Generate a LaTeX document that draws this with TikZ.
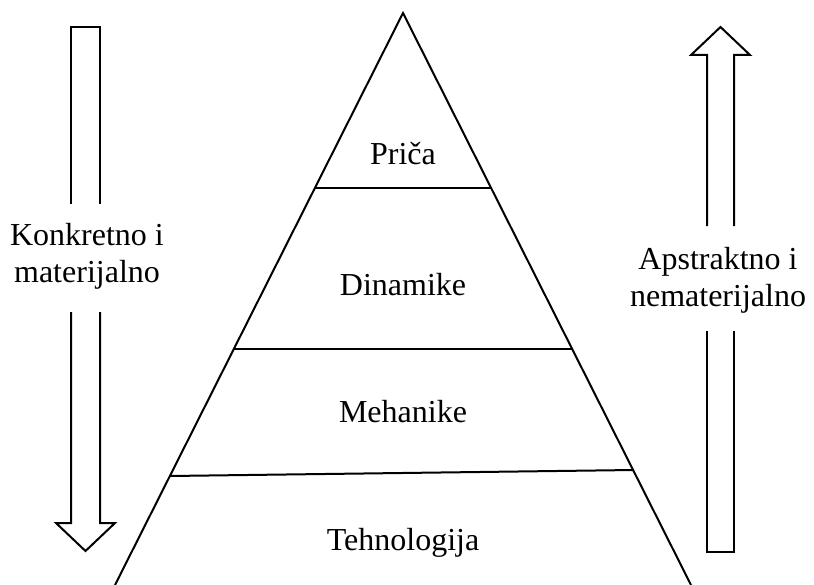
\documentclass[tikz,border=0pt]{standalone}
\usepackage{fontspec}
\setmainfont{Liberation Serif}
\usepackage{tikz}

\begin{document}
\begin{tikzpicture}[x=0.75pt,y=0.75pt,yscale=-1,xscale=1,
  outline/.style={draw=black,line width=1.5pt,line join=miter},
  layer/.style={draw=black,line width=1.5pt},
  lbl/.style={font=\fontsize{24}{27.5}\selectfont,align=center,inner sep=0pt}]
\useasboundingbox (0,0) rectangle (814,585);

%Shape: Triangle [pyramid]
\coordinate (apex) at (403,13);
\coordinate (bl) at (115,585);
\coordinate (br) at (691,585);
\draw [layer] (bl) -- (apex) -- (br) ;

%Straight Lines [layer borders]
\coordinate (l1) at (315,188);
\coordinate (r1) at (491,188);
\coordinate (l2) at (234,349);
\coordinate (r2) at (573,349);
\coordinate (l3) at (170,476);
\coordinate (r3) at (634,470);
\draw [layer] (l1) -- (r1) ;
\draw [layer] (l2) -- (r2) ;
\draw [layer] (l3) -- (r3) ;

%Text: layers
\node [lbl] (prica) at (403,154) {Priča};
\node [lbl] (dinamike) at (403,285) {Dinamike};
\node [lbl] (mehanike) at (403,412) {Mehanike};
\node [lbl] (tehnologija) at (403,543) {Tehnologija};

%Shape: Arrow down [left]
\draw [outline] (100,204) -- (100,27) -- (71,27) -- (71,204) ;
\draw [outline] (71,312) -- (71,523) -- (56,523) -- (85.5,551) -- (115,523) -- (100,523) -- (100,312) ;
\node [lbl] (konkretno) at (87,256) {Konkretno i\\materijalno};

%Shape: Arrow up [right]
\draw [outline] (707,226) -- (707,55) -- (691,55) -- (720.5,27) -- (750,55) -- (734,55) -- (734,226) ;
\draw [outline] (707,331) -- (707,552) -- (734,552) -- (734,331) ;
\node [lbl] (apstraktno) at (718,280) {Apstraktno i\\nematerijalno};

\end{tikzpicture}
\end{document}
